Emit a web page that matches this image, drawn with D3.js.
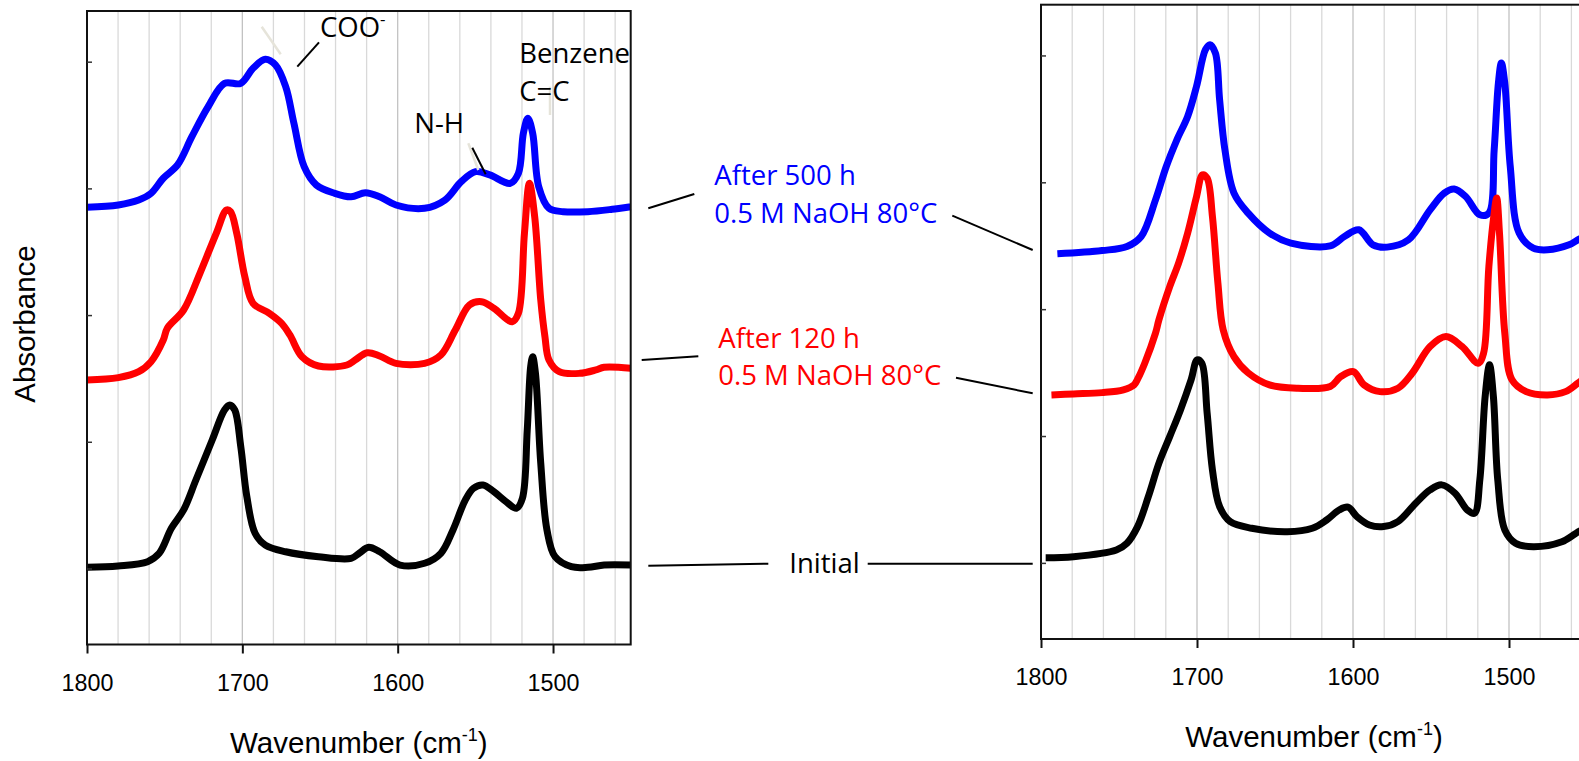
<!DOCTYPE html>
<html>
<head>
<meta charset="utf-8">
<script src="https://cdn.jsdelivr.net/npm/d3@7"></script>
<style>
body{margin:0;background:#fff;overflow:hidden}
svg{display:block}
.tick text{font-family:"Liberation Sans",Arial,sans-serif;font-size:23.3px;fill:#000}
.title{font-family:"Liberation Sans",Arial,sans-serif;font-size:29.5px;fill:#000}
.ann{font-family:"Open Sans",sans-serif;font-size:27.5px}
</style>
</head>
<body>
<svg id="fig" width="1579" height="761"></svg>
<script>
// values: [wavenumber cm-1, stacked absorbance a.u.]
const leftInitial = [[1800,0.01],[1780,0.02],[1761,0.054],[1753.5,0.12],[1745.7,0.317],[1737.8,0.462],[1729.9,0.698],[1719.4,1.014],[1711.5,1.251],[1708.1,1.29],[1704.9,1.251],[1701,0.961],[1697.1,0.567],[1691.8,0.278],[1685.2,0.185],[1672.1,0.132],[1651,0.093],[1630,0.08],[1624.8,0.12],[1618.7,0.167],[1611.6,0.132],[1598.5,0.027],[1582.7,0.041],[1572.2,0.12],[1564.4,0.304],[1556.5,0.54],[1551.2,0.633],[1545.1,0.659],[1538.1,0.606],[1530.2,0.527],[1523.6,0.475],[1519.7,0.554],[1516.6,1.093],[1514.4,1.593],[1513.1,1.671],[1511.3,1.54],[1507.9,0.83],[1503.9,0.304],[1498.7,0.093],[1488.2,0.014],[1477.6,0.009],[1467.1,0.027],[1450,0.027]];

const leftH120 = [[1800,1.488],[1779.8,1.506],[1766.7,1.553],[1758.8,1.632],[1750.9,1.803],[1748.3,1.896],[1737.8,2.04],[1727.3,2.33],[1716.8,2.645],[1710.2,2.829],[1707.6,2.816],[1703.6,2.645],[1698.4,2.303],[1693.1,2.093],[1682.6,2.014],[1674.7,1.935],[1669.4,1.843],[1661.6,1.671],[1651,1.598],[1632.7,1.606],[1627.4,1.645],[1619.6,1.703],[1611.6,1.677],[1601.1,1.619],[1582.7,1.619],[1572.2,1.685],[1563,1.88],[1553.8,2.08],[1546,2.106],[1538.1,2.054],[1526.3,1.948],[1522.3,2.014],[1518.4,2.645],[1515.2,3.04],[1511.8,2.776],[1507.9,2.119],[1505.2,1.829],[1502.6,1.645],[1496,1.553],[1482.9,1.54],[1472.4,1.567],[1467.1,1.588],[1450,1.58]];

const leftH500 = [[1800,2.851],[1779.8,2.869],[1766.7,2.908],[1758.8,2.961],[1750.9,3.08],[1741.7,3.185],[1732.5,3.408],[1722,3.645],[1711.5,3.829],[1701,3.829],[1693.1,3.948],[1685.2,4.019],[1678.7,3.974],[1672.1,3.803],[1666.8,3.514],[1660.2,3.171],[1652.4,3.027],[1640.5,2.961],[1630,2.934],[1620.8,2.966],[1611.6,2.934],[1601.1,2.869],[1582.7,2.843],[1569.6,2.908],[1559.1,3.053],[1549.9,3.132],[1540.7,3.106],[1527.6,3.04],[1522.3,3.119],[1519.1,3.435],[1516.2,3.553],[1513.1,3.435],[1509.2,3.013],[1502.6,2.843],[1493.4,2.816],[1477.6,2.816],[1461.9,2.835],[1450,2.855]];

const rightInitial = [[1797,0.041],[1779.2,0.049],[1751.7,0.102],[1744.9,0.155],[1738.1,0.286],[1731.2,0.522],[1724.4,0.786],[1717.5,0.995],[1710.6,1.206],[1703.8,1.443],[1699.9,1.6],[1696.9,1.574],[1693.5,1.18],[1690.1,0.733],[1685.5,0.443],[1678.7,0.325],[1664.9,0.273],[1642.1,0.246],[1626.1,0.273],[1616.9,0.338],[1608.9,0.417],[1603.2,0.439],[1597.5,0.365],[1589.5,0.299],[1580.4,0.286],[1571.2,0.325],[1559.8,0.47],[1550.6,0.575],[1543.1,0.615],[1534.6,0.549],[1526.7,0.417],[1522.1,0.391],[1518.7,0.654],[1515.3,1.311],[1512.5,1.561],[1510,1.311],[1507.2,0.654],[1502.7,0.26],[1495.8,0.155],[1484.4,0.128],[1466.1,0.167],[1457,0.234],[1450,0.28]];

const rightH120 = [[1793.3,1.324],[1779.2,1.332],[1760.9,1.342],[1747.2,1.364],[1740.3,1.403],[1738,1.45],[1733.5,1.574],[1726.6,1.811],[1724.4,1.916],[1717.5,2.178],[1711.8,2.363],[1706,2.6],[1700.3,2.888],[1696.5,3.059],[1693.5,3.033],[1690.1,2.73],[1686.6,2.205],[1683.2,1.837],[1676.3,1.626],[1667.2,1.498],[1653.5,1.403],[1635.2,1.377],[1614.6,1.39],[1607.8,1.469],[1599.8,1.508],[1592.9,1.403],[1582.7,1.35],[1571.2,1.377],[1562.1,1.495],[1550.6,1.705],[1540.4,1.784],[1530.1,1.705],[1519.8,1.574],[1516.3,1.653],[1512.9,2.336],[1509.5,2.757],[1507.9,2.876],[1506.1,2.6],[1502.7,1.811],[1498.1,1.443],[1489,1.35],[1475.3,1.324],[1463.8,1.35],[1455.8,1.417],[1450,1.47]];

const rightH500 = [[1789.5,2.436],[1760.9,2.462],[1744.9,2.494],[1735.8,2.573],[1726.6,2.862],[1719.7,3.125],[1712.9,3.335],[1706,3.519],[1700.3,3.756],[1694.6,4.045],[1691.7,4.085],[1688.2,4.019],[1685.5,3.651],[1682.1,3.256],[1676.3,2.915],[1667.2,2.757],[1653.5,2.6],[1639.8,2.521],[1614.6,2.499],[1605.5,2.573],[1596.3,2.626],[1587.2,2.507],[1578.1,2.489],[1564.4,2.547],[1550.6,2.783],[1541.5,2.915],[1535.1,2.947],[1527.8,2.888],[1518.7,2.744],[1512.9,2.757],[1509.5,3.256],[1506.8,3.782],[1504.9,3.94],[1502.7,3.782],[1499.2,3.125],[1493.5,2.6],[1484.4,2.481],[1475.3,2.468],[1461.5,2.507],[1455.1,2.552],[1450,2.58]];

const xDomain = [1800, 1450];
const yDomain = [-0.6, 4.4];
const xTicks = [1800, 1700, 1600, 1500];
const yTicks = [0, 1, 2, 3, 4];
const gridStep = 20;
const colors = {initial: '#000000', h120: '#ff0000', h500: '#0000ff'};

const svg = d3.select('#fig');

function drawPanel(opt, series){
    const g = svg.append('g').attr('transform', `translate(${opt.left},${opt.top})`);

    const x = d3.scaleLinear().domain(xDomain).range([0, opt.width]);
    const y = d3.scaleLinear().domain(yDomain).range([opt.height, 0]);

    // vertical grid every 20 cm-1
    g.selectAll('.grid')
        .data(d3.range(xDomain[0] - gridStep, xDomain[1], -gridStep))
        .join('line')
        .attr('x1', d => x(d)).attr('x2', d => x(d))
        .attr('y1', 0).attr('y2', opt.height)
        .attr('stroke', d => d % 100 === 0 ? '#c2c2c2' : '#d9d9d9')
        .attr('stroke-width', 1.3);

    const line = d3.line()
        .x(d => x(d[0]))
        .y(d => y(d[1]))
        .curve(d3.curveCatmullRom.alpha(0.5));

    series.forEach(s => {
        g.append('path')
            .datum(s.data)
            .attr('d', line)
            .attr('fill', 'none')
            .attr('stroke', s.color)
            .attr('stroke-width', 7)
            .attr('stroke-linejoin', 'round');
    });

    // frame
    g.append('rect')
        .attr('width', opt.width).attr('height', opt.height)
        .attr('fill', 'none').attr('stroke', '#111').attr('stroke-width', 2);

    // inward y ticks, no labels
    g.append('g')
        .call(d3.axisLeft(y).tickValues(yTicks).tickSize(-5).tickFormat(''))
        .call(a => a.select('.domain').remove())
        .selectAll('line').attr('stroke', '#333').attr('stroke-width', 1.5);

    const ax = g.append('g')
        .attr('transform', `translate(0,${opt.height})`)
        .call(d3.axisBottom(x).tickValues(xTicks).tickSize(9).tickFormat(d3.format('d')));
    ax.select('.domain').remove();
    ax.selectAll('line').attr('stroke', '#111').attr('stroke-width', 2);
    ax.selectAll('text').attr('y', 46).attr('dy', 0);

    const title = g.append('text')
        .attr('class', 'title')
        .attr('x', opt.width / 2)
        .attr('y', opt.height + 108)
        .attr('text-anchor', 'middle');
    title.append('tspan').text('Wavenumber (cm');
    title.append('tspan').attr('dy', -12).attr('font-size', 18).text('-1');
    title.append('tspan').attr('dy', 12).text(')');

    return {g, x, y};
}

const left = drawPanel({left: 87, top: 11, width: 543.7, height: 633.5}, [
    {data: leftH500, color: colors.h500},
    {data: leftH120, color: colors.h120},
    {data: leftInitial, color: colors.initial}
]);

const right = drawPanel({left: 1041, top: 4.7, width: 546, height: 634.3}, [
    {data: rightH500, color: colors.h500},
    {data: rightH120, color: colors.h120},
    {data: rightInitial, color: colors.initial}
]);

// y title
svg.append('text')
    .attr('class', 'title')
    .attr('transform', 'translate(35,324) rotate(-90)')
    .attr('text-anchor', 'middle')
    .text('Absorbance');

// peak annotations on the left panel
function seg(x1, y1, x2, y2, stroke = '#000', w = 2){
    svg.append('line')
        .attr('x1', x1).attr('y1', y1).attr('x2', x2).attr('y2', y2)
        .attr('stroke', stroke).attr('stroke-width', w);
}
function label(x, y, text, fill = '#000'){
    return svg.append('text').attr('class', 'ann').attr('x', x).attr('y', y).attr('fill', fill).text(text);
}

// faint leader lines left over in the original
seg(261.7, 26.7, 280.7, 54.3, '#e6e4da', 2.5);
seg(550, 86.7, 550, 115, '#e6e4da', 2.5);
seg(468.3, 143.3, 478.3, 170, '#e6e4da', 2.5);

const coo = label(320, 36.7, 'COO');
coo.append('tspan').attr('dy', -12).attr('font-size', 17).text('-');
seg(297.3, 66.7, 319, 42.3);

label(519.3, 63.3, 'Benzene');
label(519.3, 100.7, 'C=C');

label(414.3, 133.3, 'N-H');
seg(472.3, 147.7, 485.7, 174.3);

// series labels between the panels
label(714.3, 185, 'After 500 h', colors.h500);
label(714.3, 222.7, '0.5 M NaOH 80°C', colors.h500);
seg(648.3, 208.3, 694.3, 194);
seg(952.3, 215.7, 1032.7, 250);

label(718.3, 348.3, 'After 120 h', colors.h120);
label(718.3, 385, '0.5 M NaOH 80°C', colors.h120);
seg(641.7, 360, 698.3, 356.3);
seg(956, 377.7, 1032.7, 393.3);

label(789.3, 573.3, 'Initial', colors.initial);
seg(648.3, 565.7, 768.3, 563.7);
seg(867.7, 563.7, 1032.7, 563.7);
</script>
</body>
</html>
